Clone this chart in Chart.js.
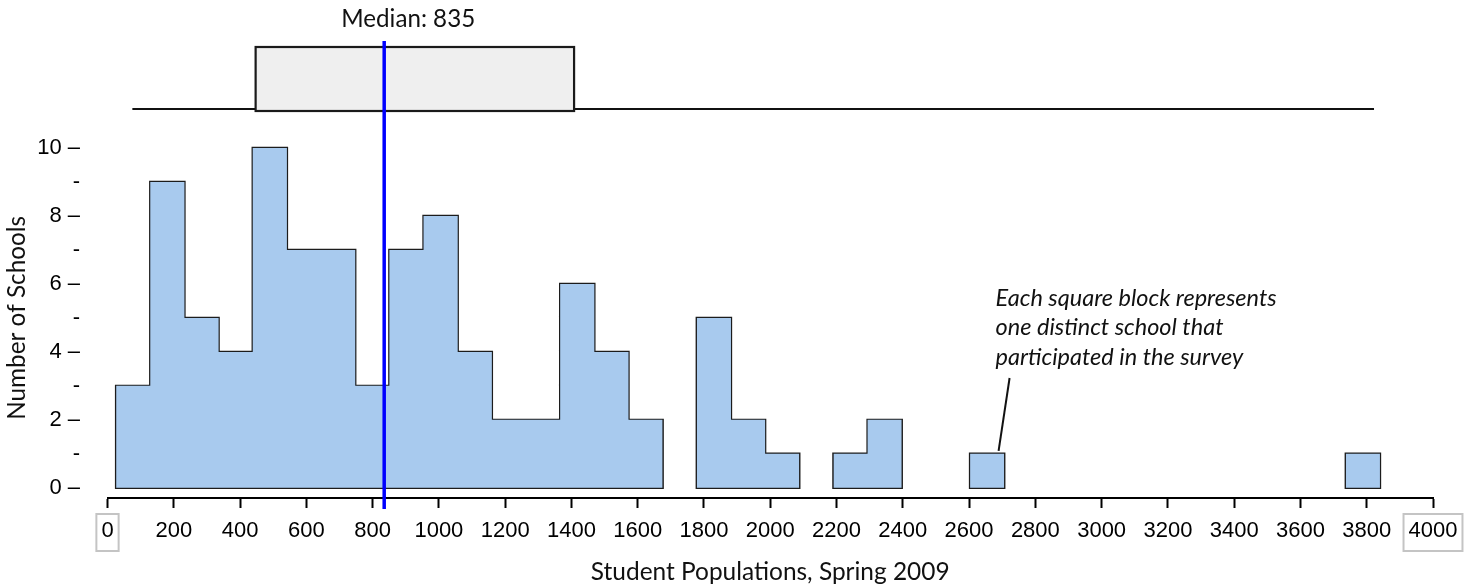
<!DOCTYPE html>
<html>
<head>
<meta charset="utf-8">
<script src="https://cdn.jsdelivr.net/npm/chart.js@4.4.1/dist/chart.umd.min.js"></script>
<style>
  html, body { margin: 0; padding: 0; background: #ffffff; }
  #wrap { width: 1476px; height: 586px; position: relative; }
</style>
</head>
<body>
<div id="wrap"><canvas id="c" width="1476" height="586"></canvas></div>
<script>
// ---------------- data ----------------
const binStart = 26;          // left edge of first bin (students)
const binWidth = 103.08;      // width of each bin (students)
const schoolCounts = [3, 9, 5, 4, 10, 7, 7, 3, 7, 8, 4, 2, 2, 6, 4, 2, 0, 5, 2, 1, 0, 1, 2, 0, 0, 1, 0, 0, 0, 0, 0, 0, 0, 0, 0, 0, 1];
const boxplotValues = [75, 447, 835, 1408, 3822];   // low whisker, Q1, median, Q3, high whisker
const xTicks = [0, 200, 400, 600, 800, 1000, 1200, 1400, 1600, 1800, 2000, 2200, 2400, 2600, 2800, 3000, 3200, 3400, 3600, 3800, 4000];
const yTicks = [0, 1, 2, 3, 4, 5, 6, 7, 8, 9, 10];
const boxedTickLabels = [0, 4000];
const medianLabel = 'Median: 835';
const annotationLines = ['Each square block represents', 'one distinct school that', 'participated in the survey'];
const annotationAnchor = [2680, 1];   // x value of annotation, block height it points to
const xTitle = 'Student Populations, Spring 2009';
const yTitle = 'Number of Schools';

// ---------------- helpers ----------------
const [wLow, q1, median, q3, wHigh] = boxplotValues;
const edges = schoolCounts.map((_, k) => binStart + k * binWidth).concat([binStart + schoolCounts.length * binWidth]);

function histogramPath(closed) {
  const pts = [];
  const n = schoolCounts.length;
  let k = 0;
  while (k < n) {
    if (!schoolCounts[k]) { k++; continue; }
    const s = k;
    pts.push({ x: edges[s], y: 0 });
    while (k < n && schoolCounts[k]) {
      pts.push({ x: edges[k], y: schoolCounts[k] });
      pts.push({ x: edges[k + 1], y: schoolCounts[k] });
      k++;
    }
    pts.push({ x: edges[k], y: 0 });
    if (closed) pts.push({ x: edges[s], y: 0 });
    pts.push({ x: edges[k], y: null });
  }
  return pts;
}

const mctx = document.createElement('canvas').getContext('2d');
function fit(text, family, target, style) {
  mctx.font = (style || 'normal') + ' 100px ' + family;
  return +(100 * target / mctx.measureText(text).width).toFixed(2);
}

const TICK_FAMILY = "'Liberation Sans', Arial, sans-serif";
const TEXT_FAMILY = "Lato, 'Open Sans', 'Noto Sans', sans-serif";
const tickSize = 22;
const medianSize = fit(medianLabel, TEXT_FAMILY, 134);
const noteSize = fit(annotationLines[0], TEXT_FAMILY, 281, 'italic');
const xTitleSize = fit(xTitle, TEXT_FAMILY, 359);
const yTitleSize = fit(yTitle, TEXT_FAMILY, 204);

// ---------------- overlay plugin ----------------
const overlay = {
  id: 'overlay',
  afterDatasetsDraw(chart) {
    const { ctx, scales: { x, y } } = chart;
    ctx.save();
    // whisker line
    ctx.strokeStyle = '#111';
    ctx.lineWidth = 2;
    ctx.beginPath();
    ctx.moveTo(x.getPixelForValue(wLow), 109);
    ctx.lineTo(x.getPixelForValue(wHigh), 109);
    ctx.stroke();
    // box
    const bx1 = x.getPixelForValue(q1), bx2 = x.getPixelForValue(q3);
    ctx.fillStyle = '#efefef';
    ctx.fillRect(bx1, 47, bx2 - bx1, 64);
    ctx.strokeStyle = '#1a1a1a';
    ctx.lineWidth = 2.2;
    ctx.strokeRect(bx1, 47, bx2 - bx1, 64);
    // median line
    const mx = x.getPixelForValue(median);
    ctx.strokeStyle = '#0000ff';
    ctx.lineWidth = 3.5;
    ctx.beginPath();
    ctx.moveTo(mx, 41);
    ctx.lineTo(mx, x.top + 11);
    ctx.stroke();
    // median label
    ctx.fillStyle = '#111';
    ctx.font = 'normal ' + medianSize + 'px ' + TEXT_FAMILY;
    ctx.textAlign = 'center';
    ctx.textBaseline = 'middle';
    ctx.fillText(medianLabel, mx + 24, 19);
    // annotation
    const ax = x.getPixelForValue(annotationAnchor[0]);
    ctx.font = 'italic ' + noteSize + 'px ' + TEXT_FAMILY;
    ctx.textAlign = 'left';
    annotationLines.forEach((t, i) => ctx.fillText(t, ax, 298 + i * 29.5));
    ctx.strokeStyle = '#111';
    ctx.lineWidth = 2;
    ctx.beginPath();
    ctx.moveTo(ax + 14, 378);
    ctx.lineTo(ax + 3, y.getPixelForValue(annotationAnchor[1]) - 3);
    ctx.stroke();
    // boxed tick labels
    ctx.font = 'normal ' + tickSize + 'px ' + TICK_FAMILY;
    ctx.strokeStyle = '#c4c4c4';
    ctx.lineWidth = 2;
    boxedTickLabels.forEach(v => {
      const w = ctx.measureText(String(v)).width;
      const px = x.getPixelForValue(v);
      ctx.strokeRect(px - w / 2 - 5, x.top + 16, w + 10, 37);
    });
    ctx.restore();
  }
};

// ---------------- chart ----------------
new Chart(document.getElementById('c'), {
  type: 'line',
  data: {
    datasets: [
      {
        data: histogramPath(false),
        fill: 'origin',
        backgroundColor: 'rgb(168, 202, 238)',
        borderColor: 'transparent',
        borderWidth: 0,
        pointRadius: 0,
        spanGaps: false,
        tension: 0
      },
      {
        data: histogramPath(true),
        fill: false,
        borderColor: '#1c1c1c',
        borderWidth: 2.4,
        borderJoinStyle: 'miter',
        borderCapStyle: 'square',
        pointRadius: 0,
        spanGaps: false,
        tension: 0
      }
    ]
  },
  options: {
    responsive: false,
    animation: false,
    events: [],
    layout: { padding: { top: 137.8, right: 43, bottom: 0, left: 0 } },
    plugins: {
      legend: { display: false },
      tooltip: { enabled: false },
      title: { display: false }
    },
    scales: {
      x: {
        type: 'linear',
        min: 0,
        max: 4000,
        afterBuildTicks: s => { s.ticks = xTicks.map(v => ({ value: v })); },
        afterFit: s => { s.height = 88; },
        grid: { display: true, drawOnChartArea: false, drawTicks: true, tickLength: 10, tickWidth: 2, tickColor: '#000' },
        border: { display: true, color: '#000', width: 2 },
        ticks: {
          autoSkip: false, maxRotation: 0, padding: 8, color: '#000',
          font: { family: TICK_FAMILY, size: tickSize, lineHeight: '30px' },
          callback: v => String(v)
        },
        title: {
          display: true, text: xTitle, color: '#111',
          font: { family: TEXT_FAMILY, size: xTitleSize, lineHeight: '28px' },
          padding: { top: 0, bottom: 0 }
        }
      },
      y: {
        type: 'linear',
        min: -0.3,
        max: 10.3,
        afterBuildTicks: s => { s.ticks = yTicks.map(v => ({ value: v })); },
        afterFit: s => { s.width = 107.5; },
        grid: { display: false, drawTicks: false },
        border: { display: false },
        ticks: {
          autoSkip: false, padding: 27.5, color: '#000',
          font: { family: TICK_FAMILY, size: tickSize },
          callback: v => (v % 2 === 0 ? v + ' \u2013' : '-')
        },
        title: {
          display: true, text: yTitle, color: '#111',
          font: { family: TEXT_FAMILY, size: yTitleSize, lineHeight: '28px' },
          padding: { top: 3, bottom: 0 }
        }
      }
    }
  },
  plugins: [overlay]
});
</script>
</body>
</html>
